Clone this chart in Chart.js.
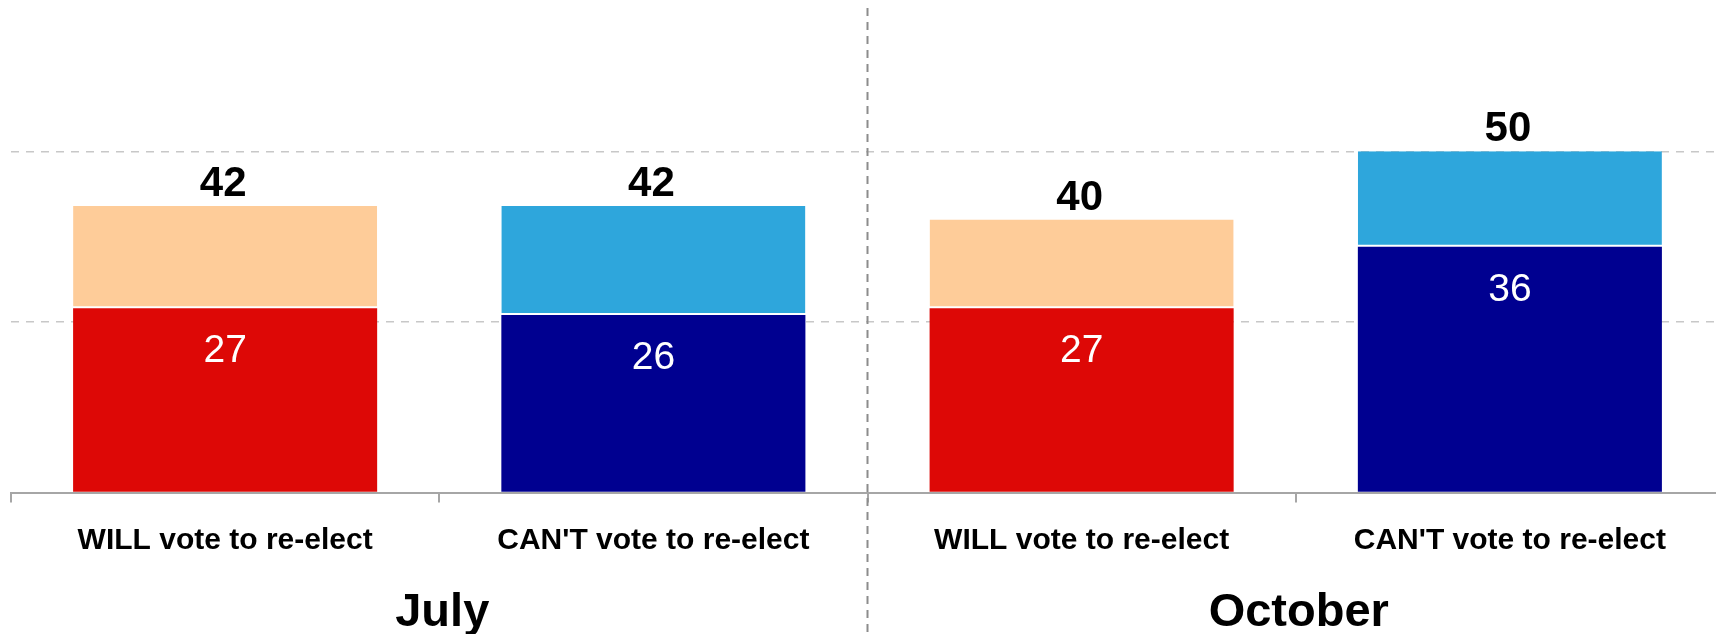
<!DOCTYPE html>
<html>
<head>
  <title>Re-elect vote</title>
  <script src="https://cdn.jsdelivr.net/npm/chart.js"></script>
  <style>
    html, body { margin: 0; padding: 0; background: #fff; overflow: hidden; }
  </style>
</head>
<body>
  <canvas id="voteChart" width="1724" height="634"></canvas>
  <script>
    const categories = ["WILL vote to re-elect", "CAN'T vote to re-elect", "WILL vote to re-elect", "CAN'T vote to re-elect"];
    const periods = ['July', 'October'];
    const baseValues = [27, 26, 27, 36];
    const totals = [42, 42, 40, 50];
    const topValues = totals.map((t, i) => t - baseValues[i]);
    const baseColors = ['#dd0806', '#000090', '#dd0806', '#000090'];
    const topColors = ['#fecc99', '#2ea6dc', '#fecc99', '#2ea6dc'];
    const yMax = 71;

    const font = '"Liberation Sans", Arial, sans-serif';

    // labels on the bars, the month names and the dashed split between months
    const labelPlugin = {
      id: 'labels',
      afterDatasetsDraw(chart) {
        const ctx = chart.ctx;
        const area = chart.chartArea;
        const x = chart.scales.x;
        const base = chart.getDatasetMeta(0).data;
        const top = chart.getDatasetMeta(1).data;
        ctx.save();
        ctx.textAlign = 'center';
        ctx.textBaseline = 'alphabetic';

        ctx.fillStyle = '#fff';
        ctx.font = '39px ' + font;
        base.forEach((bar, i) => ctx.fillText(baseValues[i], bar.x, bar.y + 54));

        ctx.fillStyle = '#000';
        ctx.font = 'bold 42px ' + font;
        top.forEach((bar, i) => ctx.fillText(totals[i], bar.x - 2, bar.y - 10));

        // month split
        const splitX = (x.getPixelForValue(1) + x.getPixelForValue(2)) / 2;
        ctx.strokeStyle = '#8c8c8c';
        ctx.lineWidth = 2;
        ctx.setLineDash([8, 6]);
        ctx.beginPath();
        ctx.moveTo(splitX, area.top);
        ctx.lineTo(splitX, chart.height);
        ctx.stroke();
        ctx.setLineDash([]);

        ctx.font = 'bold 47px ' + font;
        periods.forEach((p, k) => {
          const cx = (x.getPixelForValue(2 * k) + x.getPixelForValue(2 * k + 1)) / 2;
          ctx.fillText(p, cx + 3, 626);
        });
        ctx.restore();
      }
    };

    const chart = new Chart(document.getElementById('voteChart'), {
      type: 'bar',
      data: {
        labels: categories,
        datasets: [{
          data: baseValues,
          backgroundColor: baseColors,
          borderWidth: 0
        }, {
          data: topValues,
          backgroundColor: topColors,
          borderColor: '#fff',
          borderWidth: { top: 0, left: 0, right: 0, bottom: 2 },
          borderSkipped: false
        }]
      },
      options: {
        responsive: false,
        animation: false,
        barPercentage: 0.71,
        categoryPercentage: 1,
        layout: { padding: { left: 11, top: 8, right: 0, bottom: 0 } },
        plugins: {
          legend: { display: false },
          tooltip: { enabled: false }
        },
        scales: {
          x: {
            stacked: true,
            afterFit(s) { s.height = 141.5; },
            grid: {
              drawOnChartArea: false,
              drawTicks: true,
              tickLength: 10,
              color: '#a6a6a6',
              lineWidth: 2
            },
            border: { color: '#a6a6a6', width: 2 },
            ticks: {
              color: '#000',
              padding: 20,
              maxRotation: 0,
              font: { family: font, size: 30, weight: 'bold' }
            }
          },
          y: {
            stacked: true,
            min: 0,
            max: yMax,
            afterFit(s) { s.width = 0; },
            ticks: { display: false, stepSize: 25 },
            border: { display: false, dash: [8, 7] },
            grid: {
              drawTicks: false,
              lineWidth: 1.5,
              color: (c) => (c.tick && c.tick.value > 0 && c.tick.value < yMax) ? '#c8c8c8' : 'rgba(0,0,0,0)'
            }
          }
        }
      },
      plugins: [labelPlugin]
    });
  </script>
</body>
</html>
